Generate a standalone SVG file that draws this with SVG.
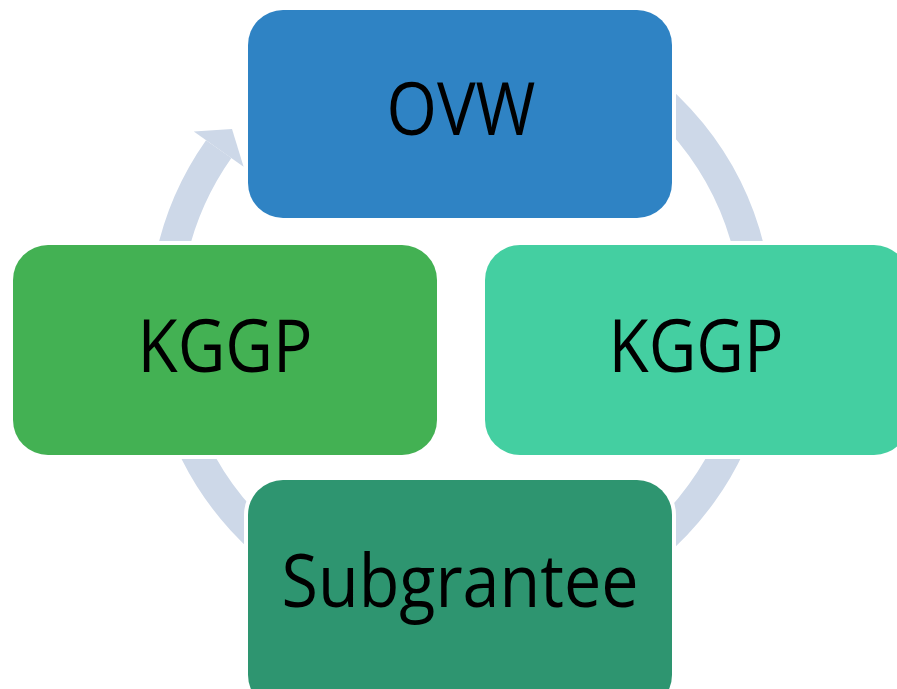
<svg xmlns="http://www.w3.org/2000/svg" width="897" height="689" viewBox="0 0 897 689">
  <style>
    .box { stroke: #ffffff; stroke-width: 8; paint-order: stroke; }
    .lbl { font-family: "Open Sans", "Noto Sans", "DejaVu Sans", sans-serif; font-size: 74px; fill: #000000; text-anchor: middle; }
  </style>
  <rect width="897" height="689" fill="#ffffff"/>
  <g id="connectors">
    <path d="M 461 23.5 A 296.5 296.5 0 1 1 218.7 149.1" fill="none" stroke="#CDD8E8" stroke-width="31"/>
    <polygon points="193.8,131.5 243.6,166.7 232,129" fill="#CDD8E8"/>
  </g>
  <g id="node-ovw">
    <rect class="box" x="248" y="10" width="424" height="208" rx="35" ry="35" fill="#2F83C4"/>
    <text class="lbl" x="461" y="135" textLength="149" lengthAdjust="spacingAndGlyphs">OVW</text>
  </g>
  <g id="node-kggp-left">
    <rect class="box" x="13" y="245" width="424" height="210" rx="35" ry="35" fill="#43B153"/>
    <text class="lbl" x="225" y="372" textLength="175" lengthAdjust="spacingAndGlyphs">KGGP</text>
  </g>
  <g id="node-kggp-right">
    <rect class="box" x="485" y="245" width="424" height="210" rx="35" ry="35" fill="#44CFA1"/>
    <text class="lbl" x="696" y="372" textLength="175" lengthAdjust="spacingAndGlyphs">KGGP</text>
  </g>
  <g id="node-subgrantee">
    <rect class="box" x="248" y="480" width="424" height="230" rx="35" ry="35" fill="#2E9570"/>
    <text class="lbl" x="460" y="607" textLength="357" lengthAdjust="spacingAndGlyphs">Subgrantee</text>
  </g>
</svg>
